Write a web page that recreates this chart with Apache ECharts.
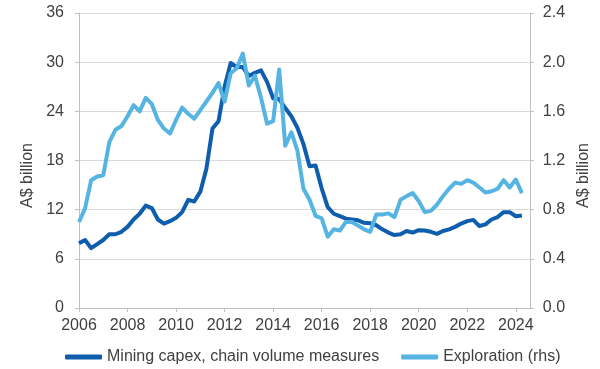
<!DOCTYPE html>
<html>
<head>
<meta charset="utf-8">
<script src="https://cdn.jsdelivr.net/npm/echarts@6/dist/echarts.min.js"></script>
<style>
html,body{margin:0;padding:0;background:#fff;}
#chart{width:600px;height:369px;}
</style>
</head>
<body>
<div id="chart"></div>
<script>
// Quarterly observation positions (decimal years)
const quarters = [
  2006.00,2006.25,2006.50,2006.75,2007.00,2007.25,2007.50,2007.75,
  2008.00,2008.25,2008.50,2008.75,2009.00,2009.25,2009.50,2009.75,
  2010.00,2010.25,2010.50,2010.75,2011.00,2011.25,2011.50,2011.75,
  2012.00,2012.25,2012.50,2012.75,2013.00,2013.25,2013.50,2013.75,
  2014.00,2014.25,2014.50,2014.75,2015.00,2015.25,2015.50,2015.75,
  2016.00,2016.25,2016.50,2016.75,2017.00,2017.25,2017.50,2017.75,
  2018.00,2018.25,2018.50,2018.75,2019.00,2019.25,2019.50,2019.75,
  2020.00,2020.25,2020.50,2020.75,2021.00,2021.25,2021.50,2021.75,
  2022.00,2022.25,2022.50,2022.75,2023.00,2023.25,2023.50,2023.75,
  2024.00,2024.25
];
// Mining capex, chain volume measures (A$ billion, lhs)
const miningCapex = [
  7.9,8.3,7.3,7.8,8.3,9.0,9.0,9.3,
  9.9,10.8,11.5,12.5,12.2,10.8,10.3,10.6,
  11.0,11.7,13.2,13.0,14.2,17.0,21.9,22.8,
  27.0,29.9,29.4,29.4,28.3,28.7,29.0,27.6,
  25.6,25.5,24.4,23.4,22.0,20.0,17.3,17.4,
  14.6,12.3,11.5,11.2,10.9,10.8,10.7,10.4,
  10.35,10.1,9.6,9.2,8.9,9.0,9.4,9.2,
  9.5,9.45,9.3,9.05,9.4,9.6,9.9,10.3,
  10.6,10.75,10.0,10.2,10.8,11.1,11.7,11.7,
  11.2,11.3
];
// Exploration (A$ billion, rhs)
const exploration = [
  0.70,0.81,1.04,1.07,1.08,1.35,1.45,1.48,
  1.56,1.65,1.60,1.71,1.66,1.53,1.46,1.42,
  1.53,1.63,1.58,1.54,1.61,1.68,1.75,1.83,
  1.68,1.91,1.95,2.07,1.81,1.89,1.71,1.50,
  1.52,1.94,1.32,1.43,1.28,0.97,0.88,0.75,
  0.73,0.58,0.64,0.63,0.70,0.70,0.67,0.64,
  0.62,0.76,0.76,0.77,0.74,0.88,0.91,0.935,
  0.87,0.78,0.79,0.84,0.91,0.97,1.02,1.01,
  1.04,1.02,0.98,0.94,0.95,0.97,1.04,0.98,
  1.045,0.935
];
const seriesNames = ['Mining capex, chain volume measures', 'Exploration (rhs)'];
const leftTicks = [0, 6, 12, 18, 24, 30, 36];
const rightTicks = [0.0, 0.4, 0.8, 1.2, 1.6, 2.0, 2.4];
const yearTicks = [2006, 2008, 2010, 2012, 2014, 2016, 2018, 2020, 2022, 2024];

const textColor = '#404040';
const axisColor = '#bfbfbf';
const fontFamily = '"Liberation Sans", Arial, sans-serif';

const chart = echarts.init(document.getElementById('chart'), null, {renderer: 'canvas'});
chart.setOption({
  animation: false,
  backgroundColor: '#ffffff',
  textStyle: {fontFamily: fontFamily},
  grid: {left: 79, right: 68, top: 13, bottom: 61, containLabel: false},
  legend: {
    left: 65, top: 349, padding: 0,
    itemWidth: 37, itemHeight: 5, itemGap: 22,
    icon: 'roundRect',
    textStyle: {fontSize: 16, color: textColor, fontFamily: fontFamily},
    data: seriesNames
  },
  xAxis: {
    type: 'value',
    min: yearTicks[0],
    max: 2024.58,
    interval: 2,
    axisLine: {show: true, lineStyle: {color: axisColor, width: 1}},
    axisTick: {show: true, length: 4, lineStyle: {color: axisColor}},
    splitLine: {show: false},
    axisLabel: {
      fontSize: 16, color: textColor, margin: 10, fontFamily: fontFamily,
      showMaxLabel: false,
      formatter: function (v) { return yearTicks.indexOf(v) >= 0 ? String(v) : ''; }
    }
  },
  yAxis: [
    {
      type: 'value',
      min: leftTicks[0], max: leftTicks[leftTicks.length - 1], interval: 6,
      name: 'A$ billion', nameLocation: 'middle', nameGap: 37,
      nameTextStyle: {fontSize: 16, color: textColor, fontFamily: fontFamily, padding: [0, 30, 0, 0]},
      axisLine: {show: true, lineStyle: {color: axisColor, width: 1}},
      axisTick: {show: true, length: 4, lineStyle: {color: axisColor}},
      splitLine: {show: true, lineStyle: {color: '#d9d9d9', width: 1}},
      axisLabel: {fontSize: 16, color: textColor, margin: 15, fontFamily: fontFamily}
    },
    {
      type: 'value', position: 'right',
      min: rightTicks[0], max: rightTicks[rightTicks.length - 1], interval: 0.4,
      name: 'A$ billion', nameLocation: 'middle', nameGap: 42,
      nameTextStyle: {fontSize: 16, color: textColor, fontFamily: fontFamily, padding: [0, 30, 0, 0]},
      axisLine: {show: true, lineStyle: {color: axisColor, width: 1}},
      axisTick: {show: true, length: 4, lineStyle: {color: axisColor}},
      splitLine: {show: false},
      axisLabel: {fontSize: 16, color: textColor, margin: 13, fontFamily: fontFamily,
        formatter: function (v) { return v.toFixed(1); }}
    }
  ],
  series: [
    {
      name: seriesNames[0], type: 'line', yAxisIndex: 0,
      data: quarters.map(function (q, i) { return [q, miningCapex[i]]; }),
      showSymbol: false, symbol: 'none',
      lineStyle: {color: '#0F5DAD', width: 4, join: 'round'},
      itemStyle: {color: '#0F5DAD'}
    },
    {
      name: seriesNames[1], type: 'line', yAxisIndex: 1,
      data: quarters.map(function (q, i) { return [q, exploration[i]]; }),
      showSymbol: false, symbol: 'none',
      lineStyle: {color: '#55B4E2', width: 4, join: 'round'},
      itemStyle: {color: '#55B4E2'}
    }
  ]
});
</script>
</body>
</html>
